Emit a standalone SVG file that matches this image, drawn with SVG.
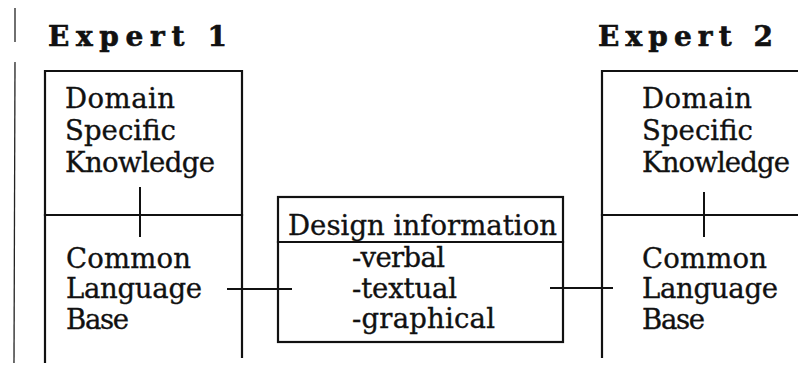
<svg xmlns="http://www.w3.org/2000/svg" width="798" height="367" viewBox="0 0 798 367">
<style>
  .bg { fill: #ffffff; }
  .frame { fill: none; stroke: #111; stroke-width: 2.2; stroke-linecap: square; }
  .conn { fill: none; stroke: #111; stroke-width: 2; }
  .margin { fill: none; stroke: #222; stroke-width: 1.3; }
  .t { font-family: "DejaVu Serif", "Liberation Serif", serif; font-size: 27.5px; fill: #111; stroke: #111; stroke-width: 0.35; }
  .h { font-family: "DejaVu Serif", "Liberation Serif", serif; font-size: 28px; font-weight: bold; fill: #111; stroke: #111; stroke-width: 0.6; }
</style>
<rect class="bg" x="0" y="0" width="798" height="367"/>
<g id="margin-line">
  <line class="margin" x1="15" y1="8" x2="15" y2="42"/>
  <line class="margin" x1="15" y1="62" x2="14" y2="363"/>
</g>
<g id="expert1">
  <text class="h" x="48" y="46" textLength="179" lengthAdjust="spacing">Expert 1</text>
  <path class="frame" d="M45,362 V71 H242 V357"/>
  <line class="frame" x1="45" y1="215" x2="242" y2="215"/>
  <text class="t" x="65" y="108" textLength="110" lengthAdjust="spacing">Domain</text>
  <text class="t" x="65" y="140" textLength="111" lengthAdjust="spacing">Specific</text>
  <text class="t" x="65" y="172" textLength="150" lengthAdjust="spacing">Knowledge</text>
  <text class="t" x="66" y="268" textLength="125" lengthAdjust="spacing">Common</text>
  <text class="t" x="66" y="298" textLength="136" lengthAdjust="spacing">Language</text>
  <text class="t" x="66" y="329" textLength="63" lengthAdjust="spacing">Base</text>
</g>
<g id="design-information">
  <rect class="frame" x="278" y="197" width="285" height="145"/>
  <line class="frame" x1="278" y1="242" x2="563" y2="242"/>
  <text class="t" x="288" y="235" textLength="269" lengthAdjust="spacing">Design information</text>
  <text class="t" x="352" y="267" textLength="93" lengthAdjust="spacing">-verbal</text>
  <text class="t" x="352" y="298" textLength="105" lengthAdjust="spacing">-textual</text>
  <text class="t" x="352" y="328" textLength="143" lengthAdjust="spacing">-graphical</text>
</g>
<g id="expert2">
  <text class="h" x="598" y="46" textLength="175" lengthAdjust="spacing">Expert 2</text>
  <path class="frame" d="M602,357 V71 H800"/>
  <line class="frame" x1="602" y1="215" x2="800" y2="215"/>
  <text class="t" x="642" y="108" textLength="110" lengthAdjust="spacing">Domain</text>
  <text class="t" x="642" y="140" textLength="111" lengthAdjust="spacing">Specific</text>
  <text class="t" x="642" y="172" textLength="148" lengthAdjust="spacing">Knowledge</text>
  <text class="t" x="642" y="268" textLength="125" lengthAdjust="spacing">Common</text>
  <text class="t" x="642" y="298" textLength="136" lengthAdjust="spacing">Language</text>
  <text class="t" x="642" y="329" textLength="63" lengthAdjust="spacing">Base</text>
</g>
<g id="connectors">
  <line class="conn" x1="140" y1="187" x2="140" y2="237"/>
  <line class="conn" x1="704" y1="192" x2="704" y2="237"/>
  <line class="conn" x1="227" y1="289" x2="292" y2="289"/>
  <line class="conn" x1="550" y1="288" x2="613" y2="288"/>
</g>
</svg>
